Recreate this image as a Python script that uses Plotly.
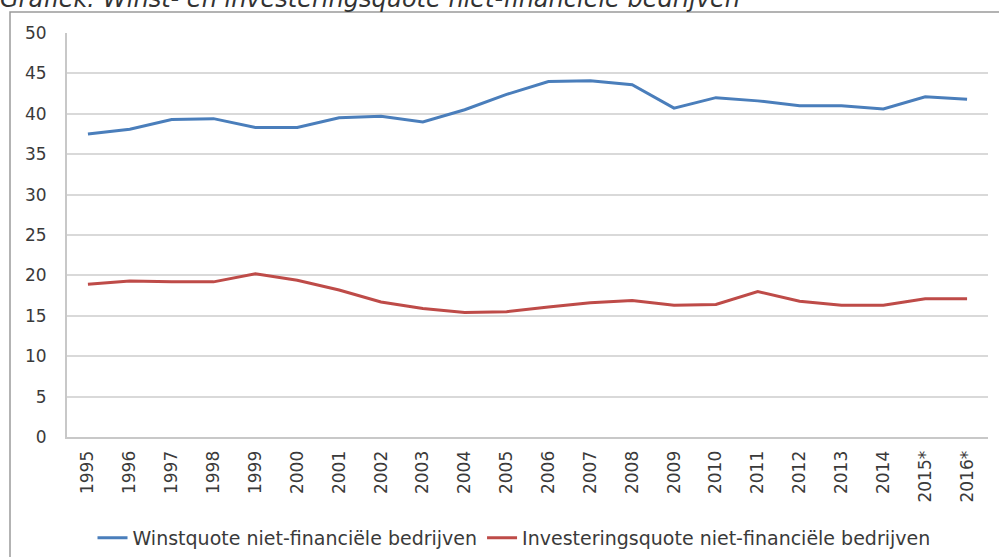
import plotly.graph_objects as go

years = ["1995", "1996", "1997", "1998", "1999", "2000", "2001", "2002", "2003", "2004",
         "2005", "2006", "2007", "2008", "2009", "2010", "2011", "2012", "2013", "2014",
         "2015*", "2016*"]
winstquote = [37.5, 38.1, 39.3, 39.4, 38.3, 38.3, 39.5, 39.7, 39.0, 40.5,
              42.4, 44.0, 44.1, 43.6, 40.7, 42.0, 41.6, 41.0, 41.0, 40.6,
              42.1, 41.8]
investeringsquote = [18.9, 19.3, 19.2, 19.2, 20.2, 19.4, 18.2, 16.7, 15.9, 15.4,
                     15.5, 16.1, 16.6, 16.9, 16.3, 16.4, 18.0, 16.8, 16.3, 16.3,
                     17.1, 17.1]
yticks = [0, 5, 10, 15, 20, 25, 30, 35, 40, 45, 50]

font_family = "DejaVu Sans, Verdana, sans-serif"
text_color = "#3a3a3a"

L, R, T, B = 67, 11, 33, 120
W, H = 999, 557
pw, ph = W - L - R, H - T - B

def px_x(x):
    return (x - L) / pw

def px_y(y):
    return (H - B - y) / ph

fig = go.Figure()
fig.add_trace(go.Scatter(x=years, y=winstquote, mode="lines",
                         name="Winstquote niet-financiële bedrijven",
                         line=dict(color="#4a7ebb", width=3)))
fig.add_trace(go.Scatter(x=years, y=investeringsquote, mode="lines",
                         name="Investeringsquote niet-financiële bedrijven",
                         line=dict(color="#be4b48", width=3)))

fig.update_layout(
    width=W, height=H,
    margin=dict(l=L, r=R, t=T, b=B, autoexpand=False),
    paper_bgcolor="white", plot_bgcolor="white",
    font=dict(family=font_family, size=17, color=text_color),
    showlegend=True,
    legend=dict(orientation="h", x=px_x(514), xanchor="center", y=px_y(538), yanchor="middle",
                font=dict(size=19, color=text_color),
                traceorder="normal"),
    xaxis=dict(type="category", tickangle=-90, showgrid=False,
               range=[-0.5, len(years) - 0.5], automargin=False,
               showline=True, linecolor="#c8c8c8", linewidth=2,
               ticks="", ticklabelstandoff=5,
               tickfont=dict(size=17, color=text_color)),
    yaxis=dict(range=[0, 50], tickvals=yticks, showgrid=True, automargin=False,
               gridcolor="#d9d9d9", gridwidth=2, zeroline=False,
               showline=True, linecolor="#c8c8c8", linewidth=2,
               ticks="", ticklabelstandoff=15,
               tickfont=dict(size=17, color=text_color)),
)

# outer frame
fig.add_shape(type="rect", xref="paper", yref="paper",
              x0=px_x(10), x1=px_x(1010),
              y0=px_y(570), y1=px_y(12),
              line=dict(color="#9a9a9a", width=1.5), fillcolor="rgba(0,0,0,0)",
              layer="below")

# title (partially cut at top)
fig.add_annotation(text="<i>Grafiek: Winst- en investeringsquote niet-financiële bedrijven</i>",
                   xref="paper", yref="paper",
                   x=px_x(-1), xanchor="left",
                   y=px_y(14), yanchor="bottom",
                   showarrow=False, borderpad=0,
                   font=dict(family=font_family, size=24, color="#333333"))

fig.write_html("out.html", config={"displayModeBar": False},
               post_script="document.body.style.margin='0';document.body.style.overflow='hidden';")
